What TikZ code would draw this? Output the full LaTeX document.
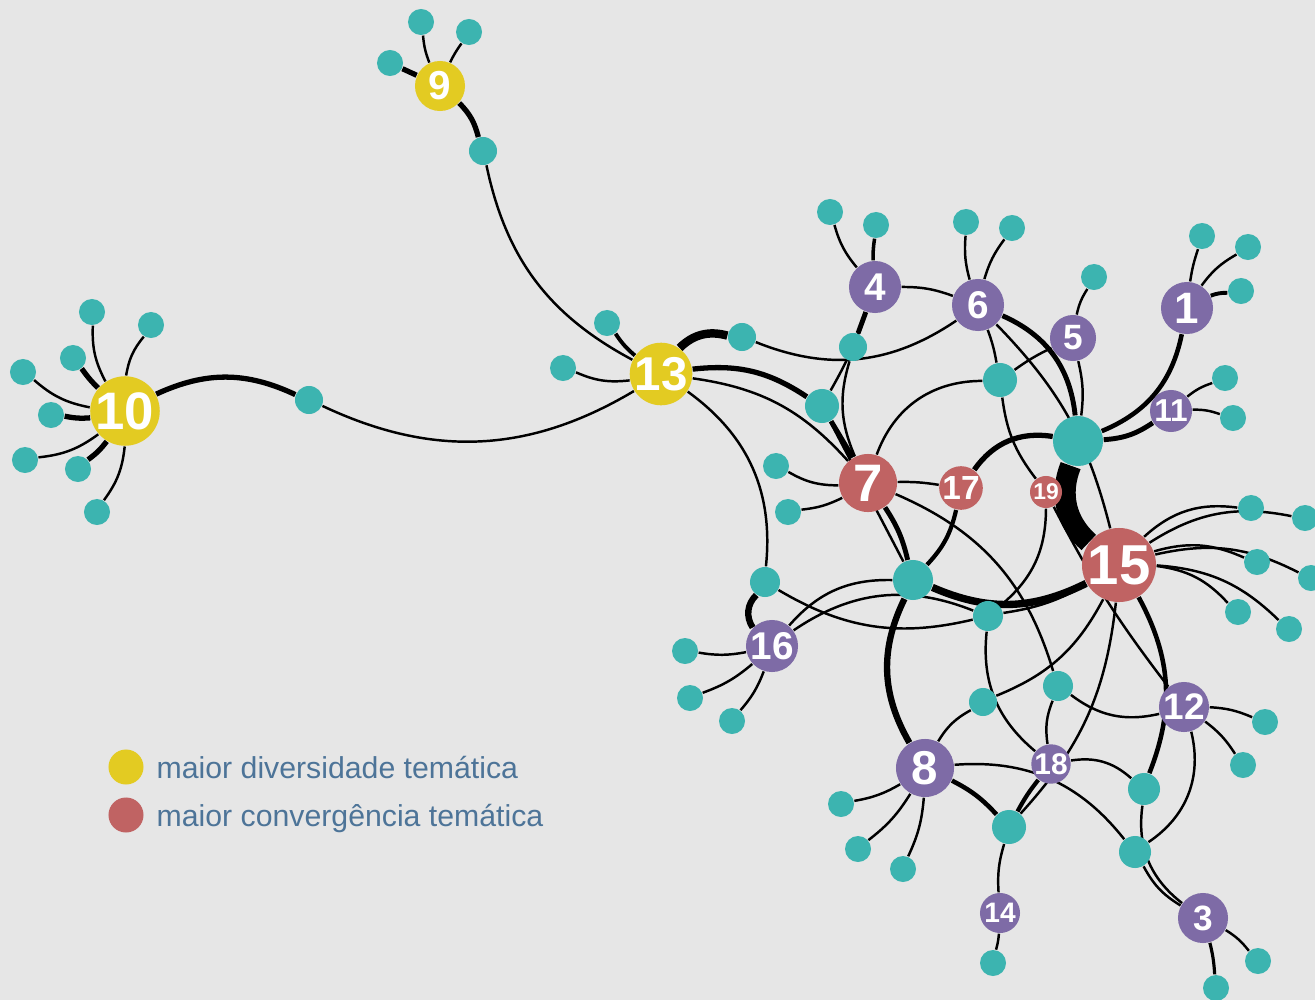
\documentclass[tikz,border=0pt]{standalone}
\usepackage{fontspec}
\setmainfont{Liberation Sans}
\usepackage{tikz}
\usetikzlibrary{backgrounds}
\definecolor{fundo}{HTML}{E6E6E6}
\definecolor{verde}{HTML}{3CB4B0}
\definecolor{amarelo}{HTML}{E3CB22}
\definecolor{vermelho}{HTML}{C06363}
\definecolor{roxo}{HTML}{7E6BA6}
\definecolor{legenda}{HTML}{4D7498}
\tikzset{tema/.style={circle,inner sep=0pt,text=white}}
\tikzset{folha/.style={circle,fill=verde,inner sep=0pt,minimum size=0.26cm}}
\tikzset{legdot/.style={circle,inner sep=0pt,minimum size=0.35cm}}
\tikzset{legtxt/.style={anchor=base west,inner sep=0pt,text=legenda,font=\fontsize{8.6}{10}\selectfont}}

\begin{document}
\begin{tikzpicture}[x=0.01cm,y=0.01cm]
\useasboundingbox (0,0) rectangle (1315,-1000);
% numbered themes
\foreach \i/\x/\y/\r/\f/\c in {1/1187/308/26/12.5/roxo, 3/1203/918/25/10/roxo,
    4/875/287/26/11/roxo, 5/1073/338/23/10/roxo, 6/978/305/26/11/roxo,
    7/868/483/29/15/vermelho, 8/925/768/29/13.5/roxo, 9/440/86/25/11.5/amarelo,
    10/125/411/32/15/amarelo, 11/1171/411/21/9/roxo, 12/1184/707/25/10.5/roxo,
    13/661/374/29/13.5/amarelo, 14/1000/913/20/8/roxo, 15/1119/565/37/16/vermelho,
    16/772/646/26/11/roxo, 17/961/488/21/9.5/vermelho, 18/1051/764/19/8.5/roxo,
    19/1046/492/16/6.5/vermelho} {
	\node[tema,fill=\c,minimum size=\r*0.02cm,font=\fontsize{\f}{\f}\selectfont\bfseries] (n\i) at (\x,-\y) {\i};
	}
% shared terms
\foreach \n/\x/\y/\r in {c10/309/400/14, c9/483/151/14, pa/742/337/14, pb/822/406/17,
    pc/853/347/14, pd/1000/380/17, hub/1078/441/25, pe/913/580/20, pf/765/582/15,
    pg/988/616/15, ph/983/702/14, pi/1058/686/15, pj/1009/827/17, pk/1144/789/16,
    pl/1135/852/16} {
	\node[tema,fill=verde,minimum size=\r*0.02cm] (\n) at (\x,-\y) {};
	}
% leaves
\foreach \n/\x/\y in {a1/92/312, a2/151/325, a3/73/358, a4/23/372, a5/51/415, a6/25/460,
    a7/78/469, a8/97/512, b1/421/22, b2/469/32, b3/390/63, m1/607/323, m2/563/368,
    s1/776/466, s2/788/512, q1/830/212, q2/876/225, x1/966/222, x2/1012/228, v1/1094/277,
    u1/1202/236, u2/1248/247, u3/1241/291, k1/1225/378, k2/1233/418,
    f1/1251/508, f2/1305/518, f3/1257/562, f4/1311/578, f5/1238/612, f6/1289/629,
    g1/685/651, g2/690/698, g3/732/721, d1/1265/722, d2/1243/765,
    e1/841/804, e2/858/849, e3/903/869, h1/993/963, r1/1258/961, r2/1216/988} {
	\node[folha] (\n) at (\x,-\y) {};
	}
% legend
\node[legdot,fill=amarelo] (ly) at (126,-767) {};
\node[legdot,fill=vermelho] (lr) at (126,-815) {};
\node[legtxt] (ty) at (156,-778) {maior diversidade temática};
\node[legtxt] (tr) at (156,-826) {maior convergência temática};

\begin{scope}[on background layer]
\fill[fundo] (0,0) rectangle (1315,-1000);
\foreach \a/\b/\k/\w in {n10/a1/15/0.7, n10/a2/15/0.7, n10/a3/5/1.5, n10/a4/15/0.7,
    n10/a5/8/1.5, n10/a6/15/0.7, n10/a7/8/1.5, n10/a8/15/0.7,
    n10/c10/25/1.5, c10/n13/-28/0.7,
    n9/b1/8/0.7, n9/b2/5/0.7, n9/b3/0/1.5, n9/c9/15/1.5, c9/n13/-25/0.7,
    n13/m1/8/1.1, n13/m2/15/0.7, n13/pa/30/2.4, n13/pb/20/1.5, n13/n7/20/0.7,
    n13/pf/30/0.7, pa/n6/-28/0.7,
    n4/q1/12/0.7, n4/q2/5/1.0, n4/n6/10/0.7, n4/pc/0/1.4, n4/pb/5/0.7,
    pc/n7/-20/0.7, pb/n7/0/1.4, pb/pe/0/0.7,
    n6/x1/10/0.7, n6/x2/10/0.7, n6/hub/30/1.4, n6/pd/5/0.7, n6/n15/15/0.7,
    pd/n19/-15/0.7, n7/pd/35/0.7, pd/n5/5/0.7, n5/v1/10/0.7, n5/hub/10/0.7,
    hub/n1/-28/1.3, hub/n11/-15/1.4, n1/u1/5/0.7, n1/u2/12/0.7, n1/u3/10/1.1,
    n11/k1/10/0.7, n11/k2/10/0.7, hub/n15/-35/6,
    n17/hub/32/1.5, n17/pe/15/1.2, n7/n17/5/0.7, n7/pe/10/1.4,
    n7/s1/15/0.7, n7/s2/10/0.7, n7/pi/25/0.7,
    pe/n15/-25/2.1, pe/n8/-28/1.8, n16/pe/25/0.7, n16/pg/28/0.7, pf/n16/-40/1.8,
    pf/pg/-22/0.7, n16/g1/10/0.7, n16/g2/10/0.7, n16/g3/10/0.7,
    pg/n15/-10/0.7, pg/n18/-28/0.7, n19/pg/25/0.7, n8/ph/15/0.7, ph/n15/-20/0.7,
    pi/n18/-15/0.7, pi/n12/-25/0.7,
    n19/n12/-5/0.7, n15/pk/25/1.3, n12/d1/10/0.7, n12/d2/10/0.7, n12/pl/35/0.7,
    n18/pk/25/0.7, n18/pj/-5/1.2, pj/n15/-18/0.7, n8/pj/10/1.3, n8/pl/28/0.7,
    pj/n14/-10/0.7, n14/h1/5/0.7, pk/n3/-30/0.7, pl/n3/-15/0.7, n3/r1/10/0.7,
    n3/r2/5/0.9, n8/e1/10/0.7, n8/e2/10/0.7, n8/e3/10/0.7,
    n15/f1/25/0.7, n15/f2/22/0.7, n15/f3/20/0.7, n15/f4/20/0.7, n15/f5/20/0.7,
    n15/f6/20/0.7} {
	\draw[line width=\w pt] (\a) to[bend left=\k] (\b);
	}
\end{scope}
\end{tikzpicture}
\end{document}
